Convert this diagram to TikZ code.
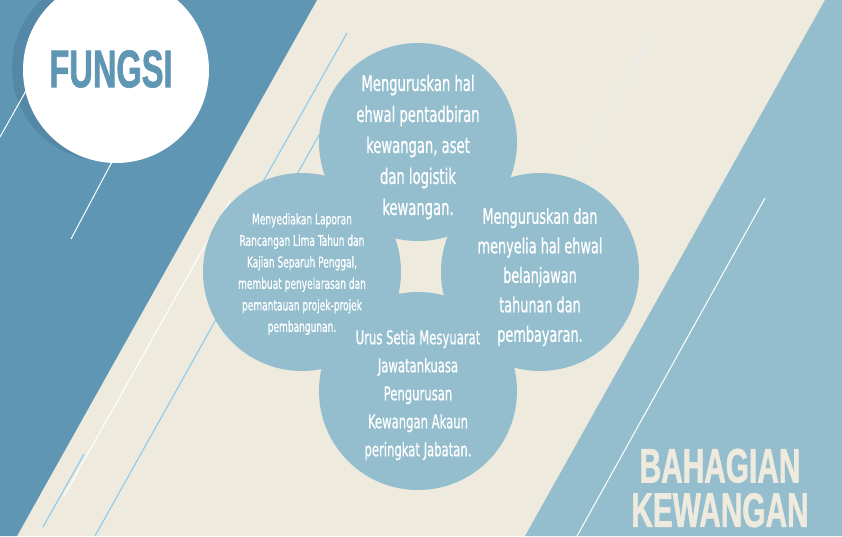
\documentclass[tikz,border=0pt]{standalone}
\usepackage{fontspec}
\setmainfont{Liberation Sans}
\newfontfamily\petalfont[FakeStretch=0.68,FakeBold=0.6]{DejaVu Sans Condensed}
\newfontfamily\titlefont[FakeStretch=0.615,FakeBold=1.2]{Liberation Sans Bold}
\usepackage{xcolor}
\usepackage{tikz}
\usetikzlibrary{positioning}
\definecolor{deepblue}{RGB}{95,150,180}
\definecolor{shadowblue}{RGB}{84,136,166}
\definecolor{paleblue}{RGB}{148,190,206}
\definecolor{cream}{RGB}{238,234,221}
\definecolor{skyline}{RGB}{140,203,236}
\definecolor{frostline}{RGB}{232,242,246}
\tikzset{
  petal/.style={circle, fill=paleblue, minimum size=198pt, inner sep=0pt},
  petaltext/.style={align=center, text=white, inner sep=0pt},
  petalbig/.style={petaltext, font=\petalfont\fontsize{21.5}{31}\selectfont},
  petalmid/.style={petaltext, font=\petalfont\fontsize{21}{29.5}\selectfont},
  petalsmall/.style={petaltext, font=\petalfont\fontsize{19}{28}\selectfont},
  petaltiny/.style={petaltext, font=\petalfont\fontsize{14.8}{21.5}\selectfont},
  titlebadge/.style={circle, fill=white, minimum size=186pt, inner sep=0pt},
  titletext/.style={font=\titlefont\fontsize{53}{53}\selectfont, inner sep=0pt},
  sectiontext/.style={font=\titlefont\fontsize{48.5}{43}\selectfont, text=cream, inner sep=0pt, text height=35pt, text depth=0pt},
  whitestreak/.style={draw=white, line width=1pt},
  bluestreak/.style={draw=skyline, line width=1.1pt},
  froststreak/.style={draw=frostline, line width=1pt}
}

\begin{document}
\begin{tikzpicture}[x=1pt,y=-1pt]
\useasboundingbox (0,0) rectangle (842,536);
\fill[cream] (0,0) rectangle (842,536);
% side bands
\fill[deepblue] (0,0) -- (317,0) -- (17,536) -- (0,536) -- cycle;
\fill[paleblue] (825,0) -- (842,0) -- (842,536) -- (525,536) -- cycle;

% badge shadow
\fill[shadowblue] (105,68) circle (93);

% thin streaks
\draw[whitestreak] (0,137) -- (40,66);
\draw[whitestreak] (113,160) -- (71,239);
\draw[bluestreak] (347,33) -- (255,196);
\draw[bluestreak] (319,135) -- (95,536);
\draw[whitestreak] (231,199) -- (64,496);
\draw[bluestreak] (84,454) -- (43,527);
\draw[froststreak] (653,33) -- (565,190);
\draw[whitestreak] (765,198) -- (577,536);

% title badge
\node[titlebadge] (badge) at (116,70) {};
\node[titletext, text=deepblue] (fungsi) at (111,69) {FUNGSI};

% four petals
\node[petal] (pentadbiran) at (418,142) {};
\node[petal] (belanjawan) at (540,272) {};
\node[petal] (laporan) at (302,272) {};
\node[petal] (mesyuarat) at (418,391) {};

\node[petalbig] (pentadbirantext) at ([yshift=-5pt]pentadbiran.center)
  {Menguruskan hal\\ehwal pentadbiran\\kewangan, aset\\dan logistik\\kewangan.};
\node[petalmid] (belanjawantext) at ([yshift=-5pt]belanjawan.center)
  {Menguruskan dan\\menyelia hal ehwal\\belanjawan\\tahunan dan\\pembayaran.};
\node[petaltiny] (laporantext) at ([yshift=-2pt]laporan.center)
  {Menyediakan Laporan\\Rancangan Lima Tahun dan\\Kajian Separuh Penggal,\\membuat penyelarasan dan\\pemantauan projek-projek\\pembangunan.};
\node[petalsmall] (mesyuarattext) at ([yshift=-4pt]mesyuarat.center)
  {Urus Setia Mesyuarat\\Jawatankuasa\\Pengurusan\\Kewangan Akaun\\peringkat Jabatan.};

% section name
\node[sectiontext] (bahagian) at (720,465) {BAHAGIAN};
\node[sectiontext, below=9pt of bahagian] (kewangan) {KEWANGAN};
\end{tikzpicture}
\end{document}
